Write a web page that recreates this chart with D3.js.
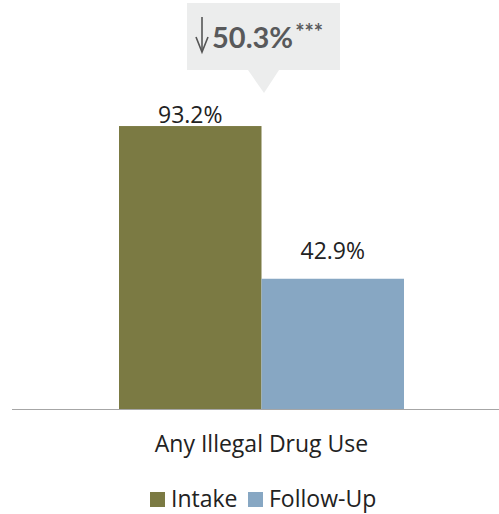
<!DOCTYPE html>
<html><head><meta charset="utf-8">
<script src="https://cdn.jsdelivr.net/npm/d3@7"></script>
<style>html,body{margin:0;padding:0;background:#fff;}</style>
</head><body>
<svg id="c" width="499" height="514"></svg>
<script>
const categories = ["Any Illegal Drug Use"];
const seriesNames = ["Intake", "Follow-Up"];
const intakeValues = [93.2];
const followUpValues = [42.9];
const changeLabel = "50.3%";
const changeSig = "***";
const colors = ["#7b7a43", "#87a7c3"];

const svg = d3.select("#c");
const baseY = 409;
const y = d3.scaleLinear().domain([0, 100]).range([baseY, baseY - 303.6]);
const x0 = d3.scaleBand().domain(categories).range([12, 510]).paddingInner(0).paddingOuter(0);
const x1 = d3.scaleBand().domain(seriesNames).range([119 - 12, 404 - 12]);

const data = categories.map((c, i) => ({cat: c, vals: [intakeValues[i], followUpValues[i]]}));
const FONT = "Open Sans, sans-serif";
const labelGap = [3, 20];

const g = svg.append("g");
data.forEach(d => {
  d.vals.forEach((v, j) => {
    const bx = x0(d.cat) + x1(seriesNames[j]);
    g.append("rect").attr("x", bx).attr("y", y(v)).attr("width", x1.bandwidth()).attr("height", baseY - y(v)).attr("fill", colors[j]);
    g.append("text").attr("x", bx + x1.bandwidth() / 2).attr("y", y(v) - labelGap[j]).attr("text-anchor", "middle")
      .attr("font-family", FONT).attr("font-size", 23).attr("fill", "#222").text(v.toFixed(1) + "%");
  });
  g.append("text").attr("x", x0(d.cat) + x1(seriesNames[0]) + x1.bandwidth()).attr("y", 452).attr("text-anchor", "middle")
    .attr("font-family", FONT).attr("font-size", 23).attr("fill", "#222").text(d.cat);
});

// axis line
svg.append("line").attr("x1", 12).attr("x2", 499).attr("y1", baseY + 0.5).attr("y2", baseY + 0.5).attr("stroke", "#a6a6a6").attr("stroke-width", 1);

// callout
const cg = svg.append("g");
cg.append("rect").attr("x", 187).attr("y", 3).attr("width", 153).attr("height", 67).attr("fill", "#eceded");
cg.append("path").attr("d", "M248,70 L279,70 L264,93 Z").attr("fill", "#eceded");
// arrow
cg.append("line").attr("x1", 202).attr("x2", 202).attr("y1", 17).attr("y2", 50).attr("stroke", "#555").attr("stroke-width", 1.6);
cg.append("path").attr("d", "M196,37 L202,52 L208,37").attr("fill", "none").attr("stroke", "#555").attr("stroke-width", 1.6);
const t = cg.append("text").attr("x", 212).attr("y", 48).attr("font-family", "Lato, sans-serif").attr("font-weight", "bold").attr("fill", "#58595b");
t.append("tspan").attr("font-size", 29).text(changeLabel);
t.append("tspan").attr("font-size", 22).attr("dx", 2).attr("dy", -8).text(changeSig);

// legend
const lg = svg.append("g");
const legX = [150, 248];
seriesNames.forEach((s, j) => {
  lg.append("rect").attr("x", legX[j]).attr("y", 492).attr("width", 15).attr("height", 15).attr("fill", colors[j]);
  lg.append("text").attr("x", legX[j] + 21).attr("y", 507).attr("font-family", FONT).attr("font-size", 23).attr("fill", "#222").text(s);
});
</script>
</body></html>
